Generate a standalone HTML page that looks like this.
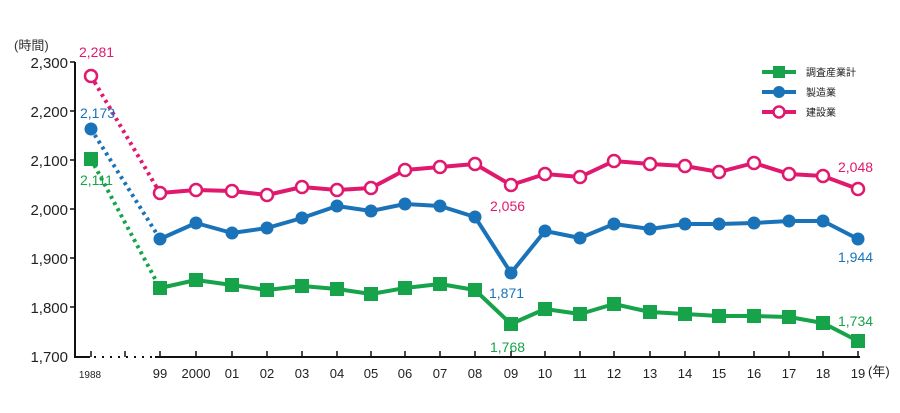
<!DOCTYPE html>
<html><head><meta charset="utf-8"><style>
html,body{margin:0;padding:0;background:#fff;}
svg{display:block;font-family:"Liberation Sans","Noto Sans CJK JP",sans-serif;}
</style></head><body>
<svg id="c" width="900" height="413" viewBox="0 0 900 413" xmlns="http://www.w3.org/2000/svg">
<text x="14" y="50" font-size="13" fill="#333">(時間)</text>
<g font-size="15" fill="#222" text-anchor="end">
<text x="68" y="68">2,300</text><text x="68" y="117">2,200</text><text x="68" y="166">2,100</text>
<text x="68" y="215">2,000</text><text x="68" y="264">1,900</text><text x="68" y="313">1,800</text><text x="68" y="362">1,700</text>
</g>
<g stroke="#111" stroke-width="2" fill="none">
<line x1="75" y1="62" x2="75" y2="357"/>
<line x1="74" y1="357" x2="90" y2="357"/>
<line x1="155" y1="357" x2="860" y2="357"/>
</g>
<line x1="94" y1="357" x2="152" y2="357" stroke="#111" stroke-width="2" stroke-dasharray="2,6"/>
<g stroke="#111" stroke-width="1.5" id="ticks">
<line x1="70" y1="62" x2="75" y2="62"/><line x1="70" y1="111" x2="75" y2="111"/><line x1="70" y1="160" x2="75" y2="160"/>
<line x1="70" y1="209" x2="75" y2="209"/><line x1="70" y1="258" x2="75" y2="258"/><line x1="70" y1="307" x2="75" y2="307"/>
<line x1="125" y1="351" x2="125" y2="357"/>
</g>
<g id="plot"></g>
<g font-size="13">
<text x="79" y="57" fill="#e0186e" font-size="14">2,281</text>
<text x="80" y="118" fill="#1a73b8" font-size="14">2,173</text>
<text x="80" y="185" fill="#16a34a" font-size="14">2,111</text>
<text x="490" y="211" fill="#e0186e" font-size="14">2,056</text>
<text x="489" y="298" fill="#1a73b8" font-size="14">1,871</text>
<text x="490" y="352" fill="#16a34a" font-size="14">1,768</text>
<text x="838" y="172" fill="#e0186e" font-size="14">2,048</text>
<text x="838" y="262" fill="#1a73b8" font-size="14">1,944</text>
<text x="838" y="326" fill="#16a34a" font-size="14">1,734</text>
</g>
<g font-size="12" fill="#222" text-anchor="middle" id="xl"></g>
<text x="868" y="376" font-size="13" fill="#222">(年)</text>
<g font-size="10" fill="#222">
<line x1="762" y1="72" x2="796" y2="72" stroke="#16a34a" stroke-width="4"/><rect x="773" y="66" width="12" height="12" fill="#16a34a"/>
<text x="806" y="76">調査産業計</text>
<line x1="762" y1="92" x2="796" y2="92" stroke="#1a73b8" stroke-width="4"/><circle cx="779" cy="92" r="6" fill="#1a73b8"/>
<text x="806" y="96">製造業</text>
<line x1="762" y1="112" x2="796" y2="112" stroke="#e0186e" stroke-width="4"/><circle cx="779" cy="112" r="5.5" fill="#fff" stroke="#e0186e" stroke-width="2.5"/>
<text x="806" y="116">建設業</text>
</g>
</svg>
<script>
var X=[91,160,196,232,267,302,337,371,405,440,475,511,545,580,614,650,685,719,754,789,823,858];
var L=["1988","99","2000","01","02","03","04","05","06","07","08","09","10","11","12","13","14","15","16","17","18","19"];
var P=[76,193,190,191,195,187,190,188,170,167,164,185,174,177,161,164,166,172,163,174,176,189];
var B=[129,239,223,233,228,218,206,211,204,206,217,273,231,238,224,229,224,224,223,221,221,239];
var G=[159,288,280,285,290,286,289,294,288,284,290,324,309,314,304,312,314,316,316,317,323,341];
var ns="http://www.w3.org/2000/svg";
function el(t,a,p){var e=document.createElementNS(ns,t);for(var k in a)e.setAttribute(k,a[k]);document.getElementById(p).appendChild(e);return e;}
for(var i=1;i<X.length;i++){el("line",{x1:X[i],y1:351,x2:X[i],y2:357,stroke:"#111","stroke-width":1.5},"ticks");}
el("line",{x1:X[0],y1:351,x2:X[0],y2:357,stroke:"#111","stroke-width":1.5},"ticks");
L.forEach(function(s,i){var t=el("text",{x:X[i]+(i==0?-1:0),y:378,"font-size":i==0?10:13},"xl");t.textContent=s;});
function series(Y,c,type){
 el("line",{x1:X[0],y1:Y[0],x2:X[1],y2:Y[1],stroke:c,"stroke-width":4,"stroke-dasharray":"3,4"},"plot");
 var pts=[];for(var i=1;i<X.length;i++)pts.push(X[i]+","+Y[i]);
 el("polyline",{points:pts.join(" "),fill:"none",stroke:c,"stroke-width":4,"stroke-linejoin":"round"},"plot");
 for(var i=0;i<X.length;i++){
  if(type=="s")el("rect",{x:X[i]-7,y:Y[i]-7,width:14,height:14,fill:c},"plot");
  else if(type=="c")el("circle",{cx:X[i],cy:Y[i],r:6.5,fill:c},"plot");
  else el("circle",{cx:X[i],cy:Y[i],r:6,fill:"#fff",stroke:c,"stroke-width":2.5},"plot");
 }
}
series(G,"#16a34a","s");series(B,"#1a73b8","c");series(P,"#e0186e","o");
</script>
</body></html>
